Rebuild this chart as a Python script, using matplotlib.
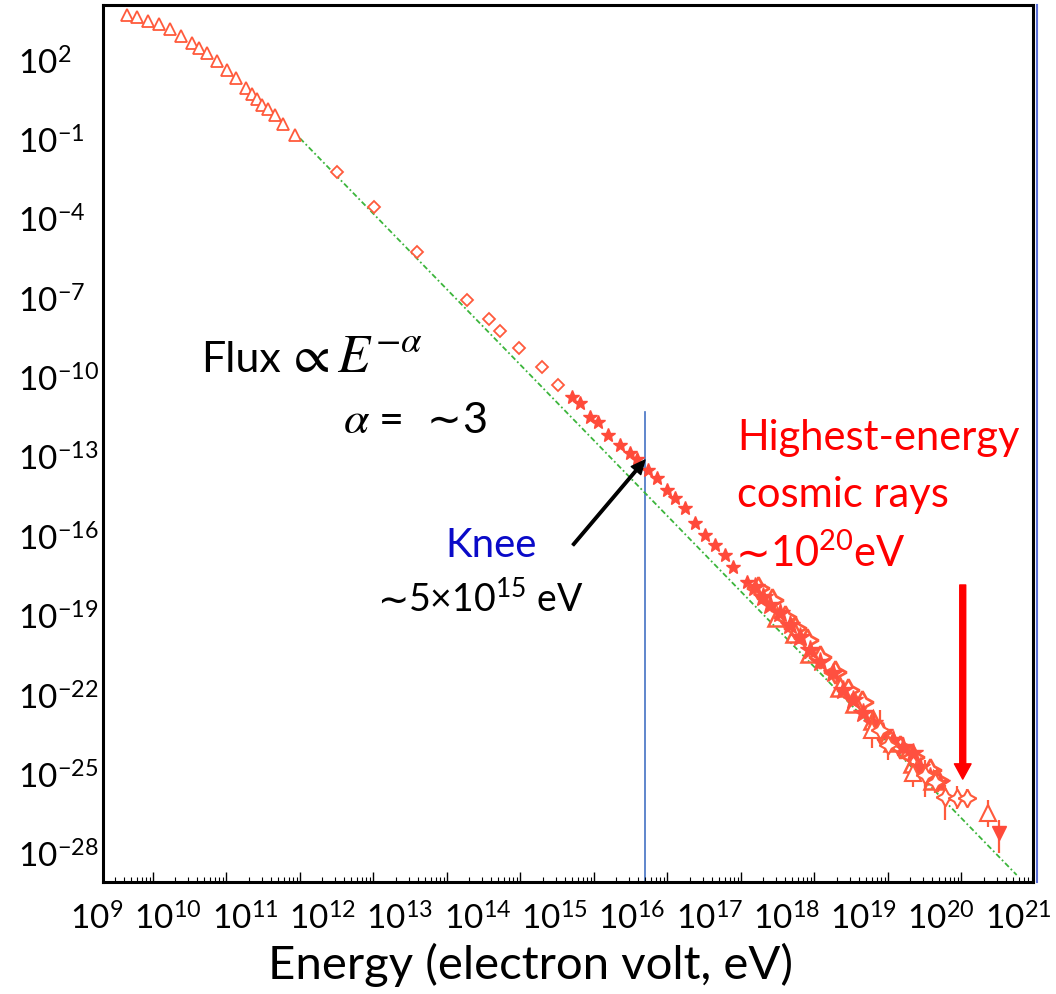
import numpy as np
import matplotlib.pyplot as plt
from matplotlib.lines import Line2D

plt.rcParams['font.family'] = ['Lato', 'DejaVu Sans']
plt.rcParams['mathtext.fontset'] = 'custom'
plt.rcParams['mathtext.rm'] = 'Lato'
plt.rcParams['mathtext.it'] = 'Lato:italic'

# all values are log10 (energy in eV, flux in arbitrary units)
tri_logE = [8.642, 8.786, 8.936, 9.086, 9.231, 9.381, 9.526, 9.626, 9.739, 9.875,
            10.003, 10.125, 10.261, 10.343, 10.411, 10.487, 10.569, 10.660, 10.773, 10.932]
tri_logF = [3.739, 3.652, 3.524, 3.399, 3.198, 2.957, 2.692, 2.503, 2.314, 2.0,
            1.660, 1.369, 0.968, 0.741, 0.563, 0.336, 0.174, -0.042, -0.382, -0.798]

dia_logE = [11.499, 12.007, 12.596, 13.276, 13.576, 13.721, 13.984, 14.288, 14.514]
dia_logF = [-2.185, -3.531, -5.210, -7.036, -7.754, -8.197, -8.862, -9.580, -10.250]

knee_logE = [14.696, 14.810, 14.946, 15.059, 15.195, 15.354, 15.490, 15.581, 15.739, 15.853,
             15.989, 16.102, 16.238, 16.374, 16.510, 16.646, 16.782, 16.895, 17.078]
knee_logF = [-10.692, -10.942, -11.448, -11.637, -12.140, -12.518, -12.832, -13.059, -13.463, -13.777,
             -14.219, -14.533, -14.911, -15.478, -15.921, -16.299, -16.677, -17.119, -17.686]

band_a_logE = [17.190, 17.299, 17.395, 17.531, 17.667, 17.803, 17.939, 18.075, 18.252, 18.388,
               18.524, 18.660, 18.796, 18.932, 19.068, 19.204, 19.340, 19.435, 19.571, 19.707]
band_a_logF = [-17.887, -18.254, -18.567, -18.870, -19.323, -19.766, -20.270, -20.711, -21.138, -21.781,
               -22.159, -22.650, -23.028, -23.357, -23.671, -23.924, -24.163, -24.681, -25.059, -25.297]

band_b_logE = [17.235, 17.418, 17.599, 17.735, 17.894, 18.075, 18.279, 18.460, 18.642, 18.891,
               19.163, 19.344, 19.571, 19.662]
band_b_logF = [-17.936, -18.378, -19.009, -19.448, -19.890, -20.522, -21.089, -21.781, -22.223, -23.357,
               -23.924, -24.302, -24.806, -25.184]

band_c_logE = [17.486, 17.735, 17.939, 18.347, 18.551, 18.800, 19.068, 19.344, 19.616]
band_c_logF = [-19.009, -19.637, -20.393, -21.656, -22.283, -22.915, -23.735, -24.552, -25.183]

# highest energy points with error bars
end_logE = [18.778, 18.891, 19.004, 19.344, 19.503, 19.640, 19.776, 19.935, 20.071, 20.365, 20.510]
end_logF = [-23.293, -23.293, -23.860, -24.930, -24.994, -25.259, -25.826, -25.875, -25.875, -26.442, -27.198]
end_hi = [-22.601, -22.537, -23.406, -24.552, -24.427, -24.805, -25.372, -25.410, -25.510, -25.951, -26.706]
end_lo = [-23.985, -23.785, -24.427, -25.459, -25.826, -25.675, -26.695, -26.280, -26.200, -26.970, -27.940]
end_kind = ['tri', 'star', 'star', 'tri', 'star', 'star', 'star', 'star', 'star', 'tri', 'down']

fit_logE = [11.0, 20.751]
fit_logF = [-0.923, -28.775]

knee_E = 5e15
uhe_E = 1.04e20

ytick_exp = list(range(2, -29, -3))
xtick_exp = list(range(9, 22))
xlabel_px = [97, 168, 245.3, 322.6, 399.9, 477.2, 554.5, 631.8, 709.1, 786.4, 863.7, 941, 1018.3]

red = '#ff5a3c'


def fx(px):
    return px / 1056


def fy(py):
    return 1 - py / 994


fig = plt.figure(figsize=(10.56, 9.94), dpi=100)
ax = fig.add_axes([fx(103), fy(882), 930 / 1056, 877 / 994])
ax.set_xscale('log')
ax.set_yscale('log')
ax.set_xlim(10 ** 8.32, 10 ** 20.973)
ax.set_ylim(10 ** -29.04, 10 ** 4.117)

ax.plot(10 ** np.array(fit_logE), 10 ** np.array(fit_logF), color='#3cb53c',
        ls=(0, (3, 1.5, 1, 1.5)), lw=1.3, zorder=2)

ax.plot(10 ** np.array(tri_logE), 10 ** np.array(tri_logF), '^', ms=8, mfc='white',
        mec=red, mew=1.3, zorder=3)
ax.plot(10 ** np.array(dia_logE), 10 ** np.array(dia_logF), 'D', ms=6, mfc='white',
        mec=red, mew=1.3, zorder=3)
ax.plot(10 ** np.array(knee_logE), 10 ** np.array(knee_logF), '*', ms=10, color='#ff4a3a',
        mec='#ff4a3a', zorder=3)
ax.plot(10 ** np.array(band_c_logE), 10 ** np.array(band_c_logF), '^', ms=13, mfc='none',
        mec=red, mew=1.8, zorder=3)
ax.plot(10 ** np.array(band_b_logE), 10 ** np.array(band_b_logF), marker=(4, 1, 0), ls='none',
        ms=16, mfc='none', mec=red, mew=2.0, zorder=3)
ax.plot(10 ** np.array(band_a_logE), 10 ** np.array(band_a_logF), '*', ms=15, color='#ff5040',
        zorder=3)

eE = 10 ** np.array(end_logE)
eF = 10 ** np.array(end_logF)
yerr = [eF - 10 ** np.array(end_lo), 10 ** np.array(end_hi) - eF]
ax.errorbar(eE, eF, yerr=yerr, fmt='none', ecolor=red, elinewidth=1.6, capsize=0, zorder=3)
kinds = np.array(end_kind)
ax.plot(eE[kinds == 'tri'], eF[kinds == 'tri'], '^', ms=11, mfc='white', mec=red, mew=1.5, zorder=4)
ax.plot(eE[kinds == 'star'], eF[kinds == 'star'], marker=(4, 1, 0), ls='none', ms=13,
        mfc='white', mec=red, mew=1.5, zorder=4)
ax.plot(eE[kinds == 'down'], eF[kinds == 'down'], 'v', ms=10, color='#ff4a3a', zorder=4)

# knee line and arrows
ax.plot([knee_E, knee_E], [10 ** -29.5, 10 ** -11.27], color='#4472c4', lw=1.2, zorder=1)
ax.annotate('', xy=(10 ** 15.694, 10 ** -13.085), xytext=(10 ** 14.714, 10 ** -16.30),
            arrowprops=dict(color='black', width=1.8, headwidth=9, headlength=10, shrink=0))
ax.annotate('', xy=(uhe_E, 10 ** -25.15), xytext=(uhe_E, 10 ** -17.81),
            arrowprops=dict(color='#ff0000', width=4.3, headwidth=12, headlength=11, shrink=0))

for s in ax.spines.values():
    s.set_linewidth(2.2)
    s.set_color('black')

ax.set_yticks([10.0 ** e for e in ytick_exp])
ax.set_yticklabels(['10$^{%d}$' % e for e in ytick_exp], fontsize=24)
ax.yaxis.set_minor_locator(plt.NullLocator())
ax.tick_params(axis='y', which='both', length=0, pad=61)
for lab in ax.get_yticklabels():
    lab.set_horizontalalignment('left')

ax.set_xticks([10.0 ** e for e in range(9, 21)])
ax.xaxis.set_minor_locator(plt.LogLocator(base=10, subs=np.arange(2, 10), numticks=30))
ax.tick_params(axis='x', which='major', direction='in', length=7, width=1.0, labelbottom=False)
ax.tick_params(axis='x', which='minor', direction='in', length=3.5, width=0.8, labelbottom=False)

for e, xp in zip(xtick_exp, xlabel_px):
    fig.text(fx(xp), fy(930), '10$^{%d}$' % e, fontsize=24, ha='center', va='baseline')

fig.text(fx(531), fy(979), 'Energy (electron volt, eV)', fontsize=34, ha='center', va='baseline')

# annotations
fig.text(fx(201), fy(372), 'Flux', fontsize=31, ha='left', va='baseline')
fig.text(fx(286), fy(372), r'$\propto E^{-\alpha}$', fontsize=38, ha='left',
         va='baseline', math_fontfamily='stix')
fig.text(fx(343), fy(433), r'$\alpha$', fontsize=33, ha='left', va='baseline',
         math_fontfamily='stix')
fig.text(fx(379), fy(433), '=', fontsize=31, ha='left', va='baseline')
fig.text(fx(461), fy(433), '∼', fontsize=30, family='DejaVu Sans', ha='right', va='baseline')
fig.text(fx(462), fy(433), '3', fontsize=31, ha='left', va='baseline')

fig.text(fx(491), fy(557), 'Knee', fontsize=29, color='#0a0ac8', ha='center', va='baseline')
fig.text(fx(408), fy(612), '∼', fontsize=27, family='DejaVu Sans', ha='right', va='baseline')
fig.text(fx(408), fy(612), '5×10$^{15}$ eV', fontsize=27, ha='left', va='baseline')

fig.text(fx(737), fy(450), 'Highest-energy', fontsize=30, color='#ff0000', va='baseline')
fig.text(fx(737), fy(507), 'cosmic rays', fontsize=30, color='#ff0000', va='baseline')
fig.text(fx(770), fy(567), '∼', fontsize=30, family='DejaVu Sans', color='#ff0000',
         ha='right', va='baseline')
fig.text(fx(770), fy(567), '10$^{20}$eV', fontsize=30, color='#ff0000', va='baseline')

fig.add_artist(Line2D([fx(1036.5)] * 2, [fy(5), fy(882)], color='#5b6fd6', lw=1.5))

fig.savefig('out.png', dpi=100)
